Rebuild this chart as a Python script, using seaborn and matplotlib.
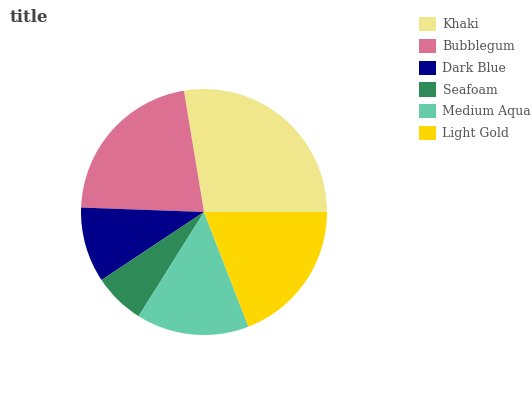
import matplotlib
matplotlib.use("Agg")
import matplotlib.pyplot as plt
import seaborn as sns
from matplotlib.patches import Patch

labels = ["Khaki", "Bubblegum", "Dark Blue", "Seafoam", "Medium Aqua", "Light Gold"]
values = [27.6, 21.8, 9.9, 6.75, 14.8, 19.1]
colors = ["#F0E68C", "#DB7093", "#00008B", "#2E8B57", "#66CDAA", "#FFD700"]

sns.set_theme(style="white")
plt.rcParams['font.family'] = ['DejaVu Serif']

fig = plt.figure(figsize=(5.32, 4.0), dpi=100)
ax = fig.add_axes([81/532, 1 - 335/400, 246/532, 246/400])
ax.pie(values, colors=colors, startangle=0, counterclock=True,
       wedgeprops=dict(linewidth=0))
ax.set_xlim(-1, 1)
ax.set_ylim(-1, 1)
ax.set_aspect('equal')
ax.axis('off')

fig.text(10/532, 1 - 17/400, "title", fontsize=12, color="#444444",
         va="center", ha="left", fontweight="bold")

handles = [Patch(facecolor=c, edgecolor='none') for c in colors]
leg = fig.legend(handles, labels, loc="upper left",
                 bbox_to_anchor=(408/532, 1 - 6/400), frameon=False,
                 fontsize=9, handlelength=1.36, handleheight=1.36,
                 labelspacing=0.6, handletextpad=0.5)
for t in leg.get_texts():
    t.set_color("#555555")

fig.savefig("out.png", dpi=100)
